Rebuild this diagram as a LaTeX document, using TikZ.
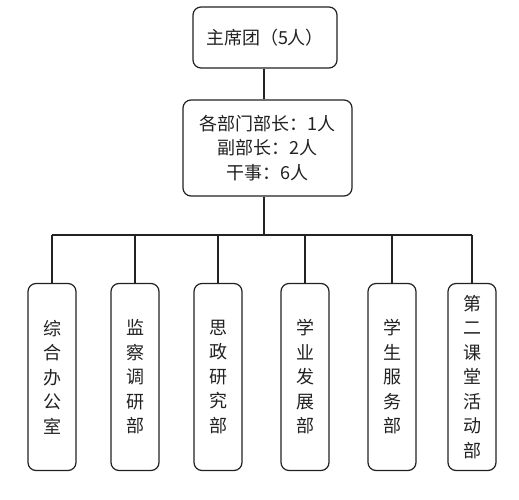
\documentclass[tikz,border=0pt]{standalone}
\usepackage{fontspec}
\setmainfont{Noto Sans CJK SC}
\definecolor{ink}{HTML}{222222}
\begin{document}
\begin{tikzpicture}[x=1pt,y=-1pt,
  box/.style={draw=ink,line width=1.2pt,rounded corners=8pt,fill=white,text=ink,inner sep=0pt,align=center,
    font=\fontsize{18}{24.5}\selectfont},
  col/.style={box,minimum width=48pt,minimum height=187pt},
  link/.style={draw=ink,line width=1.2pt}]
\useasboundingbox[fill=white] (0,0) rectangle (519,500);
\node[box,minimum width=144pt,minimum height=61pt] (top) at (265,37.5) {主席团（5人）};
\node[box,minimum width=169pt,minimum height=96pt] (mid) at (267.5,148) {各部门部长：1人\\副部长：2人\\干事：6人};
\node[col] (b1) at (52,377) {综\\合\\办\\公\\室};
\node[col] (b2) at (135,377) {监\\察\\调\\研\\部};
\node[col] (b3) at (218,377) {思\\政\\研\\究\\部};
\node[col] (b4) at (305,377) {学\\业\\发\\展\\部};
\node[col] (b5) at (392,377) {学\\生\\服\\务\\部};
\node[col] (b6) at (472,377) {第\\二\\课\\堂\\活\\动\\部};
\coordinate (bus) at (264,235);
\draw[link] (top.south -| bus) -- (mid.north -| bus);
\draw[link] (mid.south -| bus) -- (bus);
\draw[link] (b1.north |- bus) -- (b6.north |- bus);
\foreach \b in {b1,b2,b3,b4,b5,b6}{\draw[link] (\b.north) -- (\b.north |- bus);}
\end{tikzpicture}
\end{document}
